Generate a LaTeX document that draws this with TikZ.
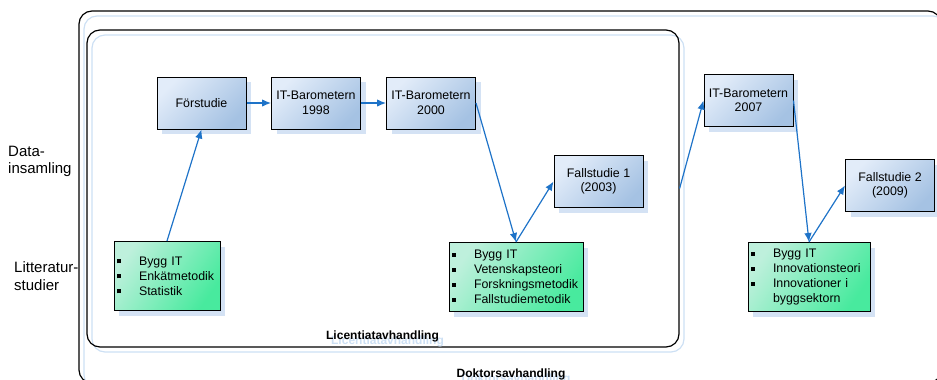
\documentclass[tikz,border=0pt]{standalone}
\usepackage{fontspec}
\setmainfont{Liberation Sans}
\usetikzlibrary{arrows.meta,shadows}
\definecolor{linkblue}{RGB}{30,115,200}
\definecolor{boxtop}{RGB}{226,236,249}
\definecolor{boxbot}{RGB}{165,194,227}
\definecolor{greentop}{RGB}{190,240,220}
\definecolor{greenbot}{RGB}{72,234,158}
\definecolor{boxshade}{RGB}{212,226,244}
\definecolor{ghostblue}{RGB}{205,224,244}
\newcommand\blt{\makebox[22pt][l]{\rule[1.8pt]{4pt}{4pt}}}
\newcommand\nob{\makebox[22pt][l]{}}
\tikzset{
  frame/.style={draw, line width=1.2pt, rounded corners=13pt, inner sep=0pt,
    general shadow={shadow xshift=5pt, shadow yshift=-5pt, draw=ghostblue, line width=1.2pt}},
  bluebox/.style={draw, line width=1pt, minimum width=89pt, minimum height=52pt,
    top color=boxtop, bottom color=boxbot, shading angle=45, align=center,
    font=\fontsize{12.4}{14.5}\selectfont,
    general shadow={shadow xshift=5pt, shadow yshift=-5pt, fill=boxshade}},
  greenbox/.style={draw, line width=1pt, minimum height=69pt, inner xsep=3pt,
    top color=greentop, bottom color=greenbot, shading angle=55, align=left,
    font=\fontsize{12.4}{15}\selectfont,
    general shadow={shadow xshift=5pt, shadow yshift=-5pt, fill=boxshade}},
  link/.style={draw=linkblue, line width=1.2pt, -{Latex[length=9pt, width=7.5pt]}},
  sidelabel/.style={inner sep=0pt, align=left, font=\fontsize{15}{17.5}\selectfont},
  title/.style={inner sep=0pt, anchor=base, font=\bfseries\fontsize{12}{14}\selectfont},
  titleghost/.style={title, text=ghostblue}
}
\begin{document}
\begin{tikzpicture}[x=1pt,y=-1pt]
\useasboundingbox (0,0) rectangle (937,380);

\node[frame, minimum width=862pt, minimum height=372pt] (dok) at (510,197) {};
\node[frame, minimum width=592pt, minimum height=317pt] (lic) at (383,188.5) {};

\node[titleghost] (lictitleghost) at (387.5,344) {Licentiatavhandling};
\node[title] (lictitle) at (382.5,339) {Licentiatavhandling};
\node[titleghost] (doktitleghost) at (516,382) {Doktorsavhandling};
\node[title] (doktitle) at (511,377) {Doktorsavhandling};

\node[sidelabel, anchor=west] (datainsamling) at (8,161.5) {Data-\\insamling};
\node[sidelabel, anchor=west] (litteraturstudier) at (14,276) {Litteratur-\\studier};

\node[bluebox] (fs) at (201.5,103) {Förstudie};
\node[bluebox] (b98) at (316,103) {IT-Barometern\\1998};
\node[bluebox] (b00) at (431,103) {IT-Barometern\\2000};
\node[bluebox] (b07) at (748.5,100.5) {IT-Barometern\\2007};
\node[bluebox] (fa1) at (598.5,181.5) {Fallstudie 1\\(2003)};
\node[bluebox] (fa2) at (890,185.5) {Fallstudie 2\\(2009)};

\node[greenbox, text width=100pt] (lit1) at (167,276)
  {\blt Bygg IT\\\blt Enkätmetodik\\\blt Statistik};
\node[greenbox, text width=128pt] (lit2) at (516,277)
  {\blt Bygg IT\\\blt Vetenskapsteori\\\blt Forskningsmetodik\\\blt Fallstudiemetodik};
\node[greenbox, text width=116pt] (lit3) at (809,277)
  {\blt Bygg IT\\\blt Innovationsteori\\\blt Innovationer i\\\nob byggsektorn};

\draw[link] (lit1.north) -- (fs.south);
\draw[link] (fs.east) -- (b98.west);
\draw[link] (b98.east) -- (b00.west);
\draw[link] (b00.east) -- (lit2.north);
\draw[link] (lit2.north) -- (fa1.west);
\draw[link] (lic.east) -- (b07.west);
\draw[link] (b07.east) -- (lit3.north);
\draw[link] (lit3.north) -- (fa2.west);
\end{tikzpicture}
\end{document}
